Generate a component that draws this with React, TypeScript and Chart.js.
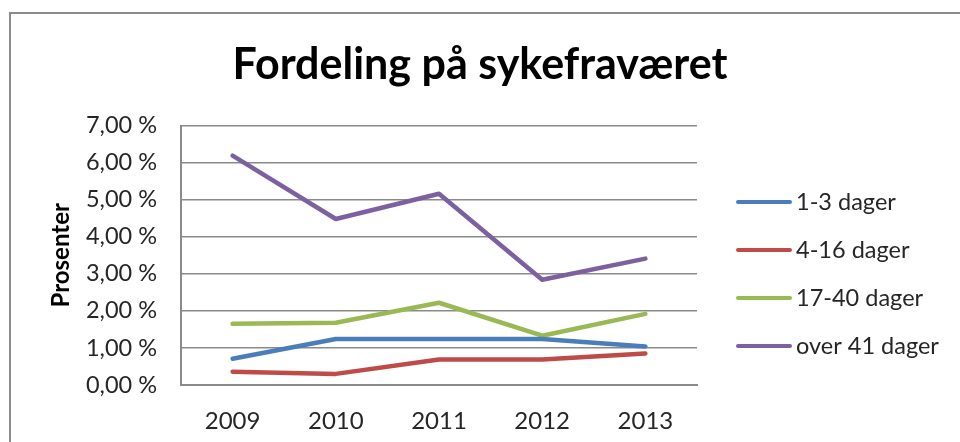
import React, { useEffect, useRef } from "react";
import { Chart, registerables } from "chart.js";

Chart.register(...registerables);

const chartTitle = "Fordeling på sykefraværet";
const yAxisTitle = "Prosenter";
const years = ["2009", "2010", "2011", "2012", "2013"];
const seriesLabels = ["1-3 dager", "4-16 dager", "17-40 dager", "over 41 dager"];
const days1to3 = [0.71, 1.24, 1.24, 1.24, 1.04];
const days4to16 = [0.36, 0.3, 0.69, 0.69, 0.85];
const days17to40 = [1.65, 1.68, 2.22, 1.33, 1.92];
const daysOver41 = [6.19, 4.48, 5.16, 2.84, 3.41];
const seriesColors = ["#4A7EBB", "#BE4B48", "#98B954", "#7D60A0"];
const yMin = 0;
const yMax = 7;
const yStep = 1;

const FONT = "Lato";
const TEXT = "#262626";
const GRID = "#8a8a8a";

const decorPlugin = {
  id: "decor",
  beforeDraw(chart: any) {
    const ctx = chart.ctx;
    ctx.save();
    ctx.fillStyle = "#ffffff";
    ctx.fillRect(0, 0, chart.width, chart.height);
    ctx.strokeStyle = "#8c8c8c";
    ctx.lineWidth = 2;
    ctx.strokeRect(10, 13, 2000, 2000);
    ctx.restore();
  },
  afterDraw(chart: any) {
    const ctx = chart.ctx;
    ctx.save();
    chart.data.datasets.forEach((ds: any, i: number) => {
      const y = 202 + i * 48;
      ctx.strokeStyle = ds.borderColor;
      ctx.lineWidth = 4;
      ctx.lineCap = "round";
      ctx.beginPath();
      ctx.moveTo(738, y);
      ctx.lineTo(790, y);
      ctx.stroke();
      ctx.fillStyle = TEXT;
      ctx.font = `23.5px ${FONT}`;
      ctx.textBaseline = "middle";
      ctx.textAlign = "left";
      ctx.fillText(ds.label, 796, y);
    });
    ctx.restore();
  },
};

export default function App() {
  const canvasRef = useRef<HTMLCanvasElement | null>(null);

  useEffect(() => {
    if (!canvasRef.current) return;
    const seriesData = [days1to3, days4to16, days17to40, daysOver41];
    const chart = new Chart(canvasRef.current, {
      type: "line",
      data: {
        labels: years,
        datasets: seriesLabels.map((label, i) => ({
          label,
          data: seriesData[i],
          borderColor: seriesColors[i],
          backgroundColor: seriesColors[i],
          borderWidth: 4.5,
          borderCapStyle: "round",
          borderJoinStyle: "round",
          pointRadius: 0,
          pointHoverRadius: 0,
          tension: 0,
          fill: false,
        })),
      },
      options: {
        responsive: false,
        animation: false,
        events: [],
        layout: { padding: { left: 0, right: 0, top: 0, bottom: 0 } },
        plugins: {
          legend: { display: false },
          tooltip: { enabled: false },
          title: {
            display: true,
            text: chartTitle,
            color: "#000",
            font: { family: FONT, weight: "bold", size: 43 },
            padding: { top: 39, bottom: 35 },
          },
        },
        scales: {
          x: {
            type: "category",
            offset: true,
            grid: { display: false, drawTicks: false },
            border: { display: true, color: GRID, width: 2 },
            ticks: {
              color: TEXT,
              font: { family: FONT, size: 24 },
              padding: 22,
              maxRotation: 0,
            },
            afterFit: (s: any) => {
              s.height = 57;
            },
          },
          y: {
            position: "left",
            min: yMin,
            max: yMax,
            ticks: {
              stepSize: yStep,
              color: TEXT,
              font: { family: FONT, size: 23.5 },
              padding: 24,
              callback: (v: any) => Number(v).toFixed(2).replace(".", ",") + " %",
            },
            grid: { color: GRID, lineWidth: 1.5, drawTicks: false },
            border: { display: true, color: GRID, width: 2 },
            title: {
              display: true,
              text: yAxisTitle,
              color: "#000",
              font: { family: FONT, weight: "bold", size: 24 },
              padding: { top: 47, bottom: 0 },
            },
            afterFit: (s: any) => {
              s.width = 181;
            },
          },
          legendSpace: {
            position: "right",
            display: true,
            grid: { display: false, drawTicks: false },
            border: { display: false },
            ticks: { display: false },
            afterFit: (s: any) => {
              s.width = 263;
            },
          },
        },
      },
      plugins: [decorPlugin],
    } as any);
    return () => chart.destroy();
  }, []);

  return (
    <div style={{ position: "fixed", left: 0, top: 0, width: 960, height: 442, background: "#fff" }}>
      <canvas ref={canvasRef} width={960} height={442} style={{ display: "block" }} />
    </div>
  );
}
